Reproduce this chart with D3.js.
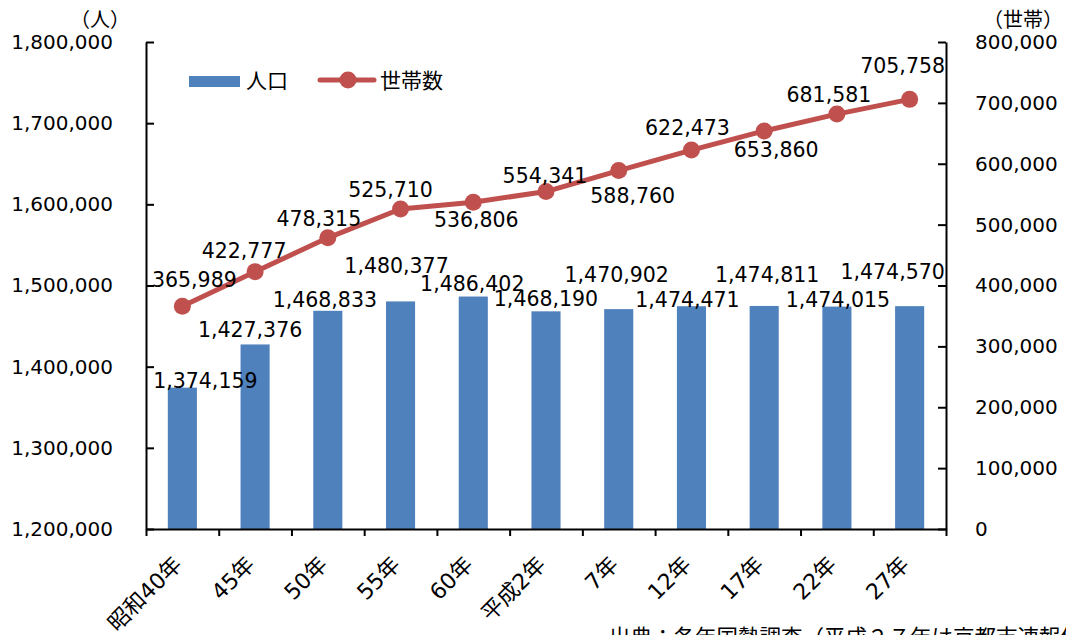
<!DOCTYPE html>
<html><head><meta charset="utf-8">
<script src="https://cdn.jsdelivr.net/npm/d3@7"></script>
<style>
html,body{margin:0;padding:0;background:#fff;}
svg{display:block;}
text{font-family:"DejaVu Sans","Noto Sans CJK JP",sans-serif;fill:#000;}
.cjk{font-family:"Noto Sans CJK JP",sans-serif;}
</style></head>
<body>
<svg id="c" width="1066" height="635"></svg>
<script>
const categories = ["昭和40年","45年","50年","55年","60年","平成2年","7年","12年","17年","22年","27年"];
const population = [1374159,1427376,1468833,1480377,1486402,1468190,1470902,1474471,1474811,1474015,1474570];
const households = [365989,422777,478315,525710,536806,554341,588760,622473,653860,681581,705758];
const leftTicks = [1200000,1300000,1400000,1500000,1600000,1700000,1800000];
const rightTicks = [0,100000,200000,300000,400000,500000,600000,700000,800000];
// label nudges (layout only), [dx, dy] relative to mark
const popLabelNudge = [[23,0],[-5,-7],[-3,-4],[-4,-28],[-1,-6],[0,-5],[-2,-27],[-4,1],[3,-24],[1,0],[-17,-27]];
const hhLabelNudge = [[12,-19],[-11,-14],[-9,-12],[-10,-12],[3,25],[-1,-9],[14,32],[-4,-15],[12,26],[-8,-12],[-7,-26]];

const BAR = "#4F81BD", LINE = "#C0504D";
const L = 146, R = 946, T = 42, B = 529;
const svg = d3.select("#c");
const fmt = d3.format(",");

const x = d3.scaleBand().domain(categories).range([L, R]).paddingInner(0.6).paddingOuter(0.3);
const xEdge = d3.scaleLinear().domain([0, categories.length]).range([L, R]);
const yL = d3.scaleLinear().domain([1200000, 1800000]).range([B, T]);
const yR = d3.scaleLinear().domain([0, 800000]).range([B, T]);
const cx = c => x(c) + x.bandwidth() / 2;

// bars
svg.append("g").selectAll("rect").data(population).join("rect")
  .attr("x", (d, i) => x(categories[i]))
  .attr("width", x.bandwidth())
  .attr("y", d => yL(d))
  .attr("height", d => B - yL(d))
  .attr("fill", BAR);

// axes
const axL = svg.append("g").attr("transform", `translate(${L},0)`)
  .call(d3.axisLeft(yL).tickValues(leftTicks).tickFormat(fmt).tickSizeInner(-8).tickSizeOuter(0).tickPadding(33));
const axR = svg.append("g").attr("transform", `translate(${R},0)`)
  .call(d3.axisRight(yR).tickValues(rightTicks).tickFormat(fmt).tickSizeInner(-8).tickSizeOuter(0).tickPadding(29));
const axB = svg.append("g").attr("transform", `translate(0,${B})`)
  .call(d3.axisBottom(xEdge).tickValues(d3.range(categories.length + 1)).tickFormat("").tickSizeInner(7).tickSizeOuter(0));
[axL, axR, axB].forEach(a => {
  a.selectAll("path,line").attr("stroke", "#000").attr("stroke-width", 2);
  a.selectAll("text").attr("font-size", 20).attr("font-family", "DejaVu Sans").attr("fill", "#000");
});

// x labels
svg.append("g").selectAll("text").data(categories).join("text")
  .attr("transform", d => `translate(${cx(d) + 1},${B + 37}) rotate(-45)`)
  .attr("text-anchor", "end")
  .attr("font-size", 22)
  .text(d => d);

// line
const line = d3.line().x((d, i) => cx(categories[i])).y(d => yR(d));
svg.append("path").datum(households).attr("d", line)
  .attr("fill", "none").attr("stroke", LINE).attr("stroke-width", 5).attr("stroke-linejoin", "round");
svg.append("g").selectAll("circle").data(households).join("circle")
  .attr("cx", (d, i) => cx(categories[i])).attr("cy", d => yR(d)).attr("r", 8.5).attr("fill", LINE);

// data labels
svg.append("g").selectAll("text").data(population).join("text")
  .attr("x", (d, i) => cx(categories[i]) + popLabelNudge[i][0])
  .attr("y", (d, i) => yL(d) + popLabelNudge[i][1])
  .attr("text-anchor", "middle").attr("font-size", 20.5).text(d => fmt(d));
svg.append("g").selectAll("text").data(households).join("text")
  .attr("x", (d, i) => cx(categories[i]) + hhLabelNudge[i][0])
  .attr("y", (d, i) => yR(d) + hhLabelNudge[i][1])
  .attr("text-anchor", "middle").attr("font-size", 20.5).text(d => fmt(d));

// units
svg.append("text").attr("class", "cjk").attr("x", 70).attr("y", 27).attr("font-size", 20).text("（人）");
svg.append("text").attr("class", "cjk").attr("x", 983).attr("y", 27).attr("font-size", 20).text("（世帯）");

// legend
const lg = svg.append("g");
lg.append("rect").attr("x", 189).attr("y", 76).attr("width", 51).attr("height", 11).attr("fill", BAR);
lg.append("text").attr("class", "cjk").attr("x", 246).attr("y", 88).attr("font-size", 21).text("人口");
lg.append("line").attr("x1", 320).attr("x2", 374).attr("y1", 80).attr("y2", 80).attr("stroke", LINE).attr("stroke-width", 5).attr("stroke-linecap", "round");
lg.append("circle").attr("cx", 348).attr("cy", 80).attr("r", 8.5).attr("fill", LINE);
lg.append("text").attr("class", "cjk").attr("x", 380).attr("y", 88).attr("font-size", 21).text("世帯数");

// source
svg.append("text").attr("class", "cjk").attr("x", 609).attr("y", 645).attr("font-size", 21.5)
  .text("出典：各年国勢調査（平成２７年は京都市速報値）");
</script>
</body></html>
